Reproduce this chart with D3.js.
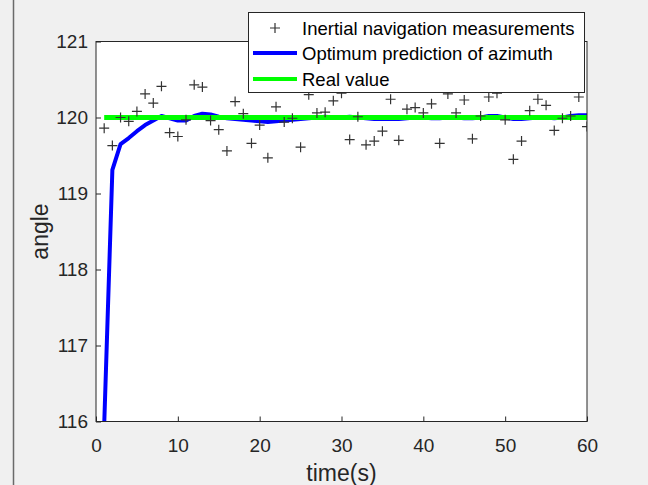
<!DOCTYPE html>
<html lang="en">
<head>
    <meta charset="UTF-8">
    <title>Azimuth prediction</title>
    <script src="https://d3js.org/d3.v7.min.js"></script>
    <style>
        body {
            margin: 0;
            overflow: hidden;
            background: #f0f0f0;
        }
        svg {
            display: block;
            font-family: "Liberation Sans", Arial, sans-serif;
        }
        .tick text {
            font-size: 19px;
            fill: #262626;
        }
        .legend text {
            font-size: 18.5px;
            fill: #000;
        }
    </style>
</head>
<body>
    <svg></svg>
    <script>
        // time axis (s)
        const times = [1, 2, 3, 4, 5, 6, 7, 8, 9, 10, 11, 12, 13, 14, 15, 16, 17, 18, 19, 20,
            21, 22, 23, 24, 25, 26, 27, 28, 29, 30, 31, 32, 33, 34, 35, 36, 37, 38, 39, 40,
            41, 42, 43, 44, 45, 46, 47, 48, 49, 50, 51, 52, 53, 54, 55, 56, 57, 58, 59, 60];

        // inertial navigation measurements
        const measured = [119.86, 119.63, 120.00, 119.95, 120.08, 120.31, 120.19, 120.41, 119.80, 119.75,
            119.97, 120.43, 120.40, 119.96, 119.84, 119.56, 120.21, 120.05, 119.66, 119.90,
            119.47, 120.14, 119.94, 119.99, 119.61, 120.30, 120.06, 120.07, 120.22, 120.32,
            119.71, 120.01, 119.64, 119.69, 119.82, 120.24, 119.70, 120.11, 120.13, 120.06,
            120.18, 119.66, 120.31, 120.06, 120.23, 119.72, 120.02, 120.27, 120.32, 119.97,
            119.45, 119.69, 120.09, 120.24, 120.16, 119.83, 119.99, 120.02, 120.27, 119.88];

        // optimum prediction of azimuth
        const optimum = [115.95, 119.31, 119.65, 119.73, 119.82, 119.90, 119.96, 120.02, 119.99, 119.96,
            119.96, 120.02, 120.05, 120.04, 120.01, 119.99, 119.98, 119.97, 119.96, 119.95,
            119.94, 119.95, 119.96, 119.97, 119.98, 119.99, 120.00, 120.01, 120.00, 120.00,
            120.01, 120.00, 119.99, 119.98, 119.98, 119.98, 119.98, 119.99, 120.00, 120.00,
            119.99, 119.99, 120.00, 120.00, 119.99, 119.99, 120.00, 120.02, 120.02, 120.00,
            119.98, 119.98, 119.99, 120.00, 120.00, 119.99, 120.00, 120.02, 120.03, 120.03];

        const realValue = 120;

        const xTicks = [0, 10, 20, 30, 40, 50, 60];
        const yTicks = [116, 117, 118, 119, 120, 121];

        const legendLabels = ["Inertial navigation measurements", "Optimum prediction of azimuth", "Real value"];

        const width = 648;
        const height = 485;
        const plot = { left: 96, right: 587, top: 41.5, bottom: 421.5 };

        const svg = d3.select("svg")
            .attr("width", width)
            .attr("height", height);

        // window edge seen in the screenshot
        svg.append("line")
            .attr("x1", 13.5).attr("x2", 13.5)
            .attr("y1", 0).attr("y2", height)
            .attr("stroke", "#6a6a6a")
            .attr("stroke-width", 1.5);

        const x = d3.scaleLinear().domain([0, 60]).range([plot.left, plot.right]);
        const y = d3.scaleLinear().domain([116, 121]).range([plot.bottom, plot.top]);

        svg.append("defs").append("clipPath")
            .attr("id", "clip")
            .append("rect")
            .attr("x", plot.left).attr("y", plot.top)
            .attr("width", plot.right - plot.left)
            .attr("height", plot.bottom - plot.top);

        svg.append("rect")
            .attr("x", plot.left).attr("y", plot.top)
            .attr("width", plot.right - plot.left)
            .attr("height", plot.bottom - plot.top)
            .attr("fill", "#fff");

        // axes, ticks inside like matlab
        const xAxis = svg.append("g")
            .attr("transform", `translate(0,${plot.bottom})`)
            .call(d3.axisBottom(x).tickValues(xTicks).tickFormat(d3.format("d"))
                .tickSizeInner(-5).tickSizeOuter(0).tickPadding(17));
        const yAxis = svg.append("g")
            .attr("transform", `translate(${plot.left},0)`)
            .call(d3.axisLeft(y).tickValues(yTicks).tickFormat(d3.format("d"))
                .tickSizeInner(-5).tickSizeOuter(0).tickPadding(8));
        [xAxis, yAxis].forEach(a => {
            a.selectAll("path, line").attr("stroke", "#262626");
            a.select(".domain").remove();
        });

        const g = svg.append("g").attr("clip-path", "url(#clip)");

        const line = d3.line()
            .x((d, i) => x(times[i]))
            .y(d => y(d));

        g.append("path")
            .datum(optimum)
            .attr("d", line)
            .attr("fill", "none")
            .attr("stroke", "#0000ff")
            .attr("stroke-width", 4)
            .attr("stroke-linejoin", "round");

        g.append("line")
            .attr("x1", x(times[0])).attr("x2", x(times[times.length - 1]))
            .attr("y1", y(realValue)).attr("y2", y(realValue))
            .attr("stroke", "#00ff00")
            .attr("stroke-width", 5);

        g.selectAll(".meas")
            .data(measured)
            .enter().append("path")
            .attr("class", "meas")
            .attr("transform", (d, i) => `translate(${x(times[i])},${y(d)})`)
            .attr("d", "M-5,0H5M0,-5V5")
            .attr("stroke", "#333")
            .attr("stroke-width", 1.2)
            .attr("fill", "none");

        // box
        svg.append("rect")
            .attr("x", plot.left).attr("y", plot.top)
            .attr("width", plot.right - plot.left)
            .attr("height", plot.bottom - plot.top)
            .attr("fill", "none")
            .attr("stroke", "#262626")
            .attr("stroke-width", 1);

        // axis titles
        svg.append("text")
            .attr("x", (plot.left + plot.right) / 2)
            .attr("y", 481)
            .attr("text-anchor", "middle")
            .attr("font-size", 23)
            .attr("fill", "#262626")
            .text("time(s)");

        svg.append("text")
            .attr("transform", `translate(48,${(plot.top + plot.bottom) / 2}) rotate(-90)`)
            .attr("text-anchor", "middle")
            .attr("font-size", 23)
            .attr("fill", "#262626")
            .text("angle");

        // legend
        const legend = svg.append("g").attr("class", "legend");
        legend.append("rect")
            .attr("x", 248.5).attr("y", 12.5)
            .attr("width", 336).attr("height", 80)
            .attr("fill", "#fff")
            .attr("stroke", "#262626")
            .attr("stroke-width", 1);

        const rows = [28, 53, 79];
        legendLabels.forEach((label, i) => {
            const yy = rows[i];
            if (i === 0) {
                legend.append("path")
                    .attr("d", `M270,${yy}H280M275,${yy - 5}V${yy + 5}`)
                    .attr("stroke", "#333")
                    .attr("stroke-width", 1.2);
            } else {
                legend.append("line")
                    .attr("x1", 253).attr("x2", 297)
                    .attr("y1", yy).attr("y2", yy)
                    .attr("stroke", i === 1 ? "#0000ff" : "#00ff00")
                    .attr("stroke-width", 4);
            }
            legend.append("text")
                .attr("x", 302)
                .attr("y", yy + 6.5)
                .text(label);
        });
    </script>
</body>
</html>
